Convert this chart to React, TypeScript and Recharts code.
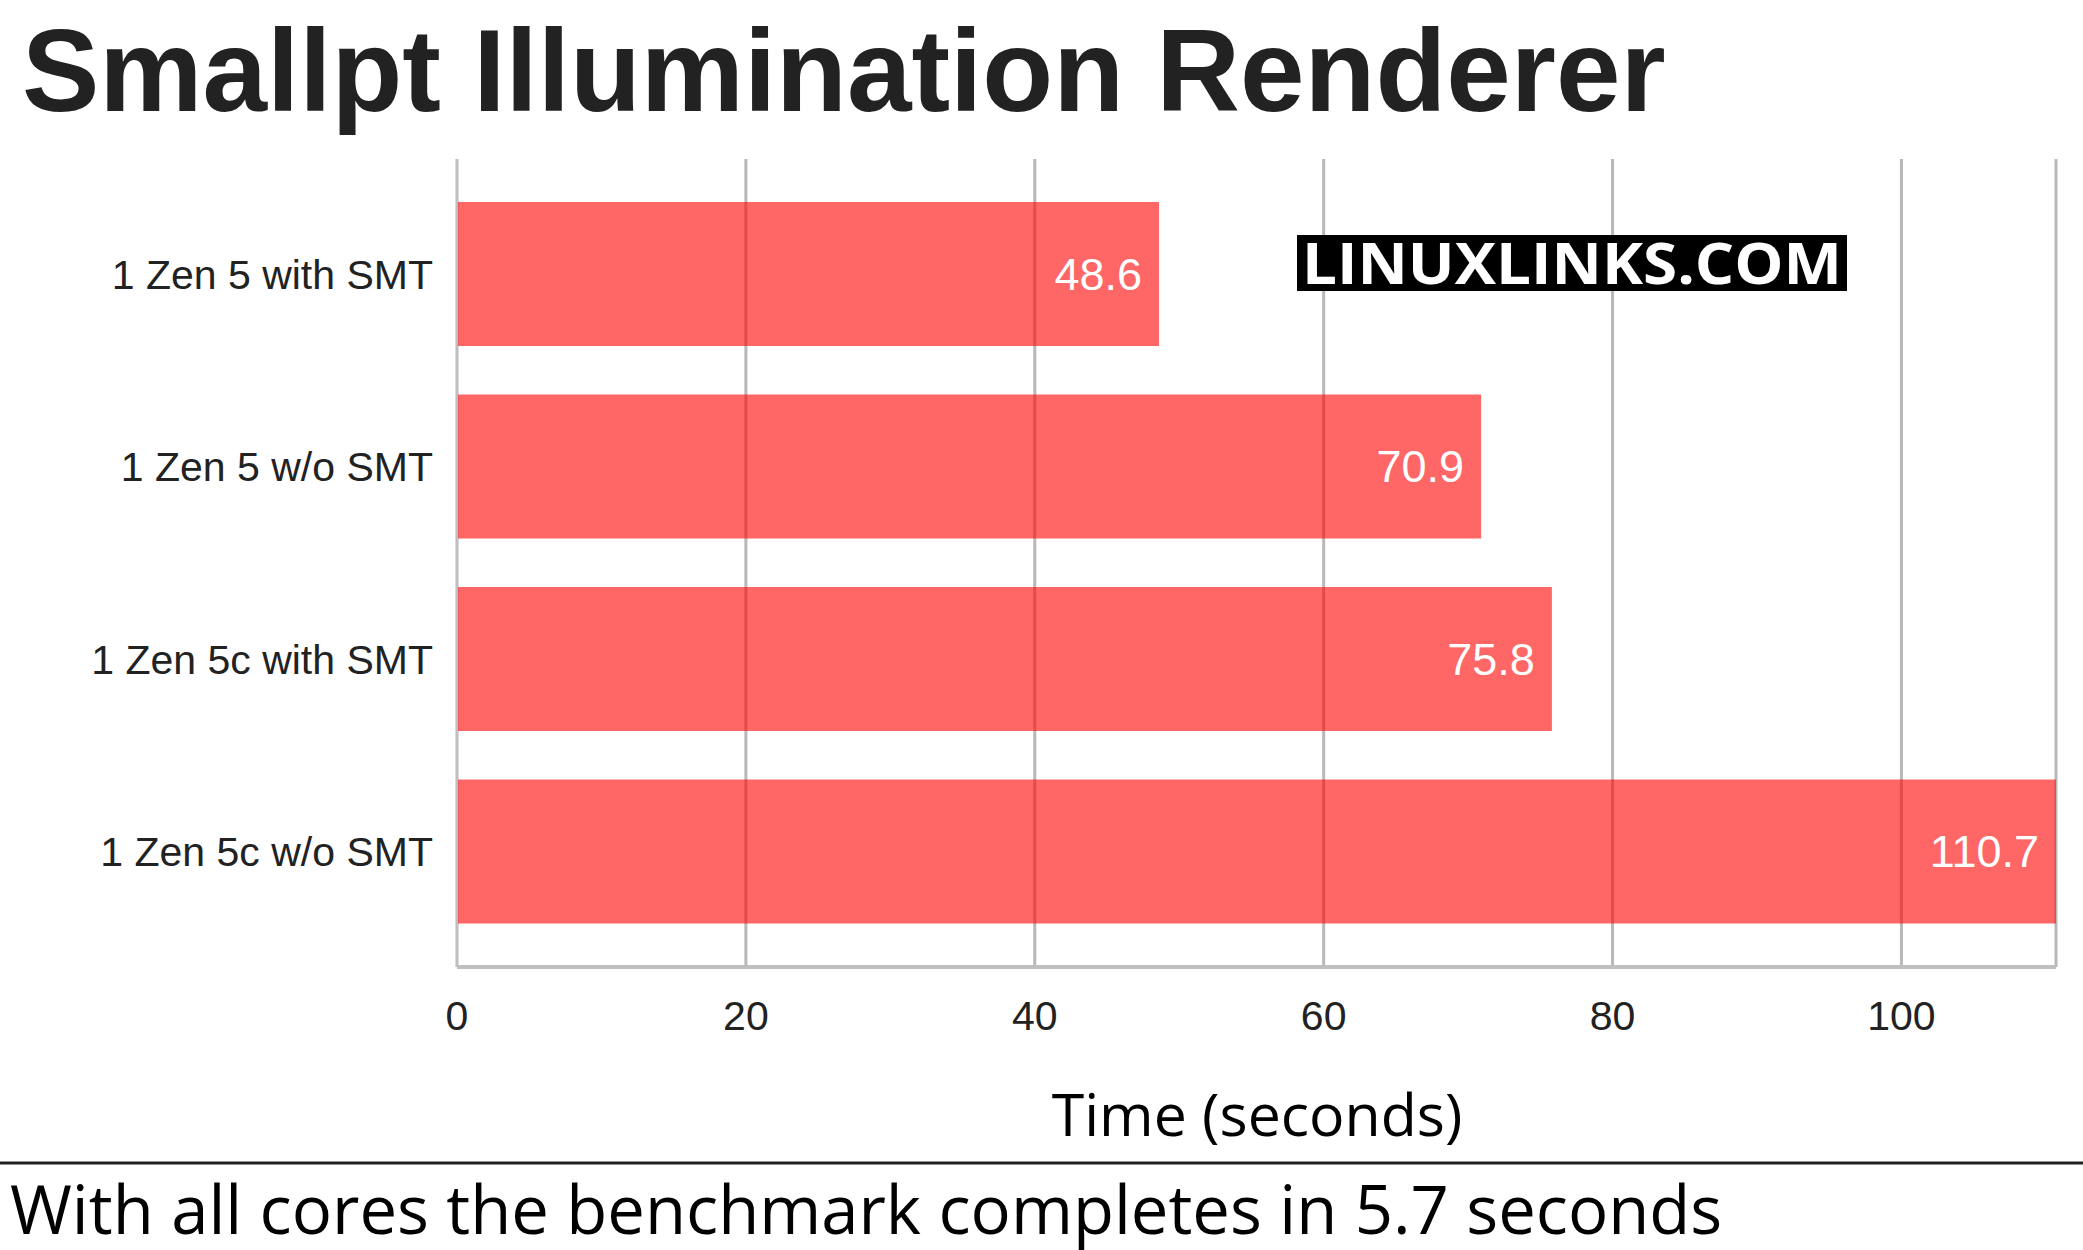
import React from "react";
import { BarChart, Bar, XAxis, YAxis, CartesianGrid, LabelList } from "recharts";

const categories = ["1 Zen 5 with SMT", "1 Zen 5 w/o SMT", "1 Zen 5c with SMT", "1 Zen 5c w/o SMT"];
const times = [48.6, 70.9, 75.8, 110.7];
const xTicks = [0, 20, 40, 60, 80, 100];
const titleText = "Smallpt Illumination Renderer";
const axisTitle = "Time (seconds)";
const footerText = "With all cores the benchmark completes in 5.7 seconds";
const watermark = "LINUXLINKS.COM";

const data = categories.map((name, i) => ({ name, time: times[i] }));

const SANS = "'Liberation Sans', Arial, sans-serif";
const OPEN = "'Open Sans', 'Noto Sans', sans-serif";

export default function App() {
  return (
    <div style={{ position: "absolute", left: 0, top: 0, width: 2083, height: 1250, background: "#fff", overflow: "hidden" }}>
      <div style={{ position: "absolute", left: 0, top: 0 }}>
        <BarChart
          width={2083}
          height={1060}
          data={data}
          layout="vertical"
          margin={{ top: 159, right: 27, bottom: 0, left: 0 }}
        >
          <CartesianGrid horizontal={false} stroke="#b8b8b8" strokeWidth={3} />
          <XAxis
            type="number"
            domain={[0, 110.7]}
            ticks={xTicks}
            height={93}
            axisLine={{ stroke: "#bfbfbf", strokeWidth: 4 }}
            tickLine={false}
            tickSize={0}
            tickMargin={34}
            tick={{ fontSize: 41, fill: "#222", fontFamily: SANS }}
            allowDataOverflow
          />
          <YAxis
            type="category"
            dataKey="name"
            width={457}
            padding={{ top: 19, bottom: 19 }}
            axisLine={{ stroke: "#bfbfbf", strokeWidth: 2 }}
            tickLine={false}
            tickSize={0}
            tickMargin={24}
            tick={{ fontSize: 41, fill: "#222", fontFamily: SANS }}
          />
          <Bar dataKey="time" fill="#ff0000" fillOpacity={0.6} barSize={144} isAnimationActive={false}>
            <LabelList
              dataKey="time"
              position="insideRight"
              offset={17}
              fill="#ffffff"
              fontSize={45}
              fontFamily={SANS}
              formatter={(v: number) => v.toFixed(1)}
            />
          </Bar>
        </BarChart>
      </div>
      <svg width={2083} height={1250} style={{ position: "absolute", left: 0, top: 0, pointerEvents: "none" }}>
        <text x={22} y={111} fontFamily={SANS} fontWeight={700} fontSize={116} fill="#222">{titleText}</text>
        <rect x={1297} y={235} width={550} height={56} fill="#000" />
        <text x={1302} y={284} fontFamily={OPEN} fontWeight={700} fontSize={58} fill="#fff" textLength={540} lengthAdjust="spacingAndGlyphs">{watermark}</text>
        <text x={1257} y={1136} textAnchor="middle" fontFamily={OPEN} fontSize={59} fill="#000">{axisTitle}</text>
        <line x1={0} x2={2083} y1={1163} y2={1163} stroke="#222" strokeWidth={3} />
        <text x={10} y={1234} fontFamily={OPEN} fontSize={67} fill="#000">{footerText}</text>
      </svg>
    </div>
  );
}
